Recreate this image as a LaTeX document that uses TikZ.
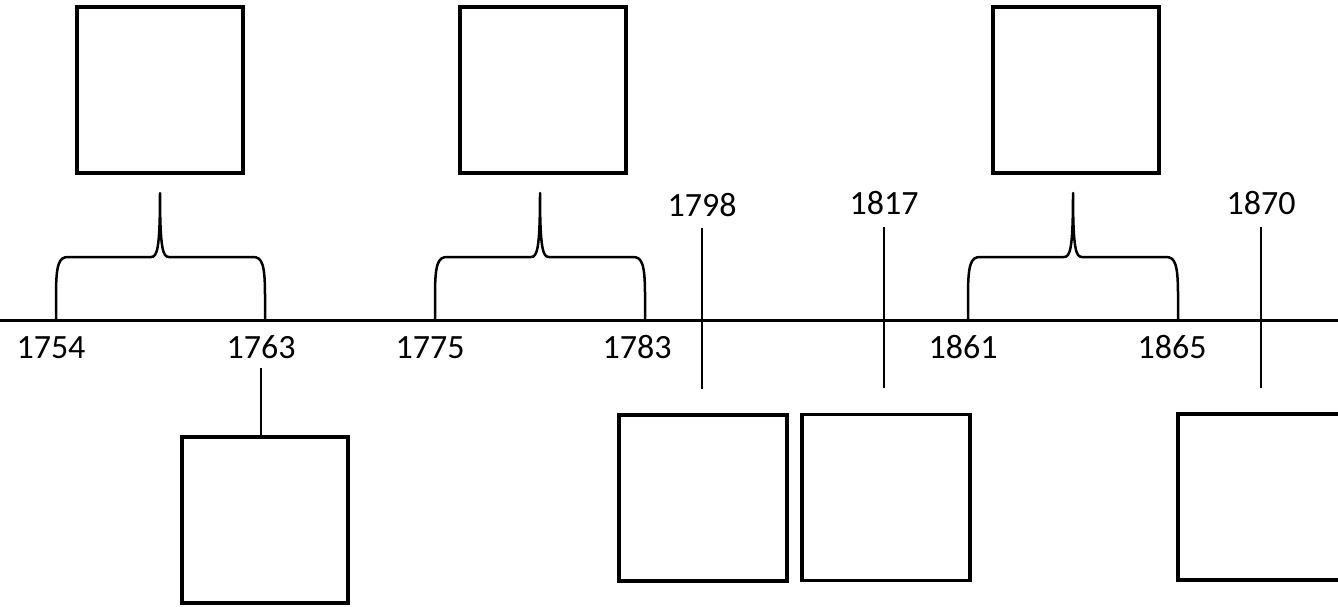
\documentclass[tikz,border=0pt]{standalone}
\usepackage{fontspec}
\setmainfont{Carlito}
\usetikzlibrary{positioning}

\tikzset{
  yearbox/.style={draw,line width=3.2pt,minimum size=166pt,inner sep=0pt},
  yearlabel/.style={font=\fontsize{34}{40}\selectfont,inner sep=0pt,anchor=base},
  tickline/.style={line width=2.6pt},
  bracepath/.style={line width=2.5pt,line join=round},
}

\begin{document}
\begin{tikzpicture}[x=1pt,y=-1pt]
  \useasboundingbox (0,0) rectangle (1338,606);
  % main axis
  \coordinate (axisL) at (0,320);
  \coordinate (axisR) at (1338,320);
  \draw[line width=3pt] (axisL) -- (axisR);
  % periods: box above a brace
  \foreach \name/\x in {war1/160,war2/543,war3/1076} { \node[yearbox] (\name) at (\x,90) {}; }
  \foreach \l/\m/\r in {56/160/265,435/540/645,968/1073/1178} {
    \draw[bracepath] (\l,320) -- (\l,295) .. controls (\l,264) and (\l+3,257) .. (\l+12,257)
      -- (\m-9,257) .. controls (\m-3,257) and (\m,250) .. (\m,193)
      .. controls (\m,250) and (\m+3,257) .. (\m+9,257)
      -- (\r-12,257) .. controls (\r-3,257) and (\r,264) .. (\r,295) -- (\r,320);
  }
  \foreach \yr/\x in {1754/51,1763/261,1775/430,1783/637,1861/963,1865/1172} {
    \node[yearlabel] (lab\yr) at (\x,358) {\yr};
  }
  % single events
  \node[yearlabel] (lab1798) at (702,216) {1798};
  \node[yearlabel] (lab1817) at (884,214) {1817};
  \node[yearlabel] (lab1870) at (1261,214) {1870};
  \coordinate (tick1798) at (702,389);
  \coordinate (tick1817) at (884,388);
  \coordinate (tick1870) at (1261,388);
  \draw[tickline,shorten <=12pt] (lab1798.south) -- (tick1798);
  \draw[tickline,shorten <=13pt] (lab1817.south) -- (tick1817);
  \draw[tickline,shorten <=13pt] (lab1870.south) -- (tick1870);
  % boxes below
  \node[yearbox] (box1763) at (265,520) {};
  \node[yearbox,minimum width=168pt] (box1798) at (703,498) {};
  \node[yearbox,minimum width=168pt] (box1817) at (886,497.5) {};
  \node[yearbox,minimum width=168pt] (box1870) at (1262,497) {};
  \draw[tickline,shorten <=10pt] (lab1763.south) -- (lab1763.south |- box1763.north);
\end{tikzpicture}
\end{document}
